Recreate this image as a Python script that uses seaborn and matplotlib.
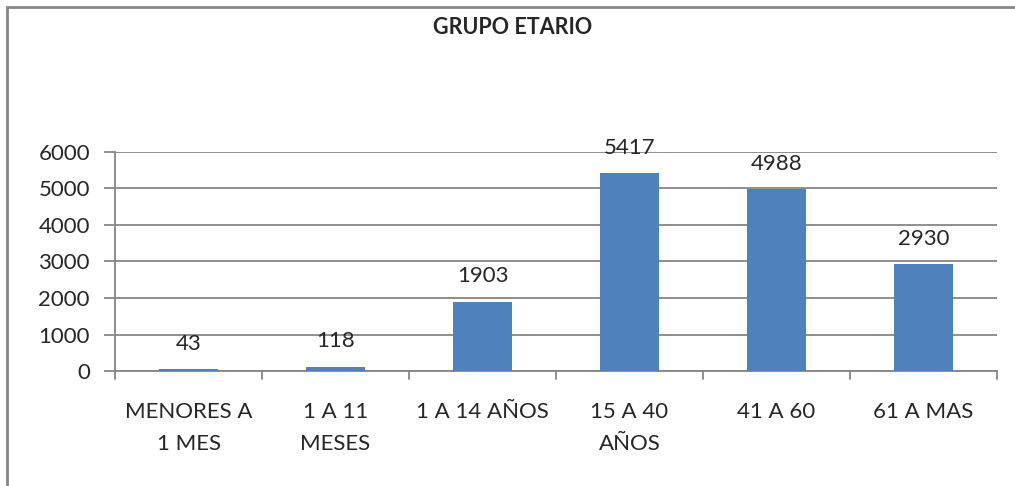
import matplotlib.pyplot as plt
import seaborn as sns
import pandas as pd
from matplotlib.patches import Rectangle

categorias = ["MENORES A\n1 MES", "1 A 11\nMESES", "1 A 14 AÑOS", "15 A 40\nAÑOS", "41 A 60", "61 A MAS"]
valores = [43, 118, 1903, 5417, 4988, 2930]
yticks = [0, 1000, 2000, 3000, 4000, 5000, 6000]

sns.set_style("white")
plt.rcParams['font.family'] = ['Lato', 'DejaVu Sans']

df = pd.DataFrame({"grupo": categorias, "total": valores})

fig = plt.figure(figsize=(10.15, 4.86), dpi=100)
ax = fig.add_axes([0.1133, 0.2366, 0.8690, 0.4507])

sns.barplot(data=df, x="grupo", y="total", color="#4F81BD", saturation=1, width=0.4,
            edgecolor="none", linewidth=0, ax=ax, zorder=3)

ax.set_ylim(0, 6000)
ax.set_xlim(-0.5, len(categorias) - 0.5)
ax.set_yticks(yticks)
ax.set_yticklabels([str(t) for t in yticks], fontsize=16)
ax.set_xticks(range(len(categorias)))
ax.set_xticklabels(categorias, fontsize=16, linespacing=1.75)
ax.set_xlabel("")
ax.set_ylabel("")

ax.yaxis.grid(True, color="#868686", linewidth=1.3, zorder=0)
for s in ["top", "right"]:
    ax.spines[s].set_visible(False)
ax.spines["left"].set_color("#868686")
ax.spines["bottom"].set_color("#868686")
ax.spines["left"].set_linewidth(1.3)
ax.spines["bottom"].set_linewidth(1.3)

ax.tick_params(axis="y", length=8, width=1.3, color="#868686", direction="out", pad=10, left=True)
ax.tick_params(axis="x", length=0, pad=22)
# tick marks between categories
for b in [i + 0.5 for i in range(-1, len(categorias))]:
    ax.plot([b, b], [0, -0.036], color="#868686", linewidth=1.3,
            transform=ax.get_xaxis_transform(), clip_on=False)

for i, v in enumerate(valores):
    ax.annotate(str(v), (i, v), xytext=(0, 11), textcoords="offset points",
                ha="center", va="bottom", fontsize=16)

fig.text(0.505, 0.943, "GRUPO ETARIO", ha="center", va="center", fontsize=15.5, fontweight="bold")

fig.patches.append(Rectangle((7 / 1015, -0.1), 1.2, 1.1 - 7 / 486, transform=fig.transFigure,
                             fill=False, edgecolor="#868686", linewidth=2))

fig.savefig("out.png", dpi=100)
